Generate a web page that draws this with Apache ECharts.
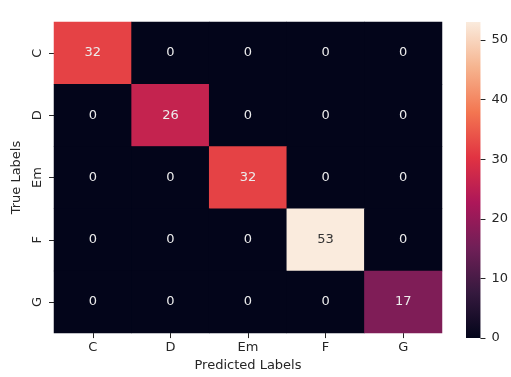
<!DOCTYPE html>
<html>
<head>
<meta charset="utf-8">
<script src="https://cdn.jsdelivr.net/npm/echarts@6/dist/echarts.min.js"></script>
<style>
  html, body { margin: 0; padding: 0; background: #ffffff; }
  #chart { width: 511px; height: 377px; }
</style>
</head>
<body>
<div id="chart"></div>
<script>
// Confusion matrix of chord predictions
const classLabels = ['C', 'D', 'Em', 'F', 'G'];
// rows = true label, columns = predicted label
const confusion = [
  [32, 0, 0, 0, 0],
  [0, 26, 0, 0, 0],
  [0, 0, 32, 0, 0],
  [0, 0, 0, 53, 0],
  [0, 0, 0, 0, 17]
];
const colorbarTicks = [0, 10, 20, 30, 40, 50];
const colorMax = 53;

// "rocket"-style sequential palette, evenly spaced stops (low -> high)
const rocket = ['#03051a', '#35193e', '#701f57', '#ad1759', '#e13342', '#f37651', '#f6b48f', '#faebdd'];

const FONT = 'DejaVu Sans';
const TEXT = '#262626';
const FS = 13;

const cells = [];
confusion.forEach((row, r) => {
  row.forEach((v, c) => {
    const light = v / colorMax > 0.75;
    cells.push({
      value: [c, r, v],
      label: { color: light ? '#333333' : '#ececec' }
    });
  });
});

// colour bar gradient: offset 0 is the top (max) end
const barGradient = new echarts.graphic.LinearGradient(0, 0, 0, 1,
  rocket.slice().reverse().map((c, i) => ({ offset: i / (rocket.length - 1), color: c }))
);

const chart = echarts.init(document.getElementById('chart'), null, { renderer: 'canvas' });
chart.setOption({
  animation: false,
  backgroundColor: '#ffffff',
  textStyle: { fontFamily: FONT },
  grid: [
    { left: 54, top: 22, width: 388, height: 316, show: true, backgroundColor: rocket[0], borderWidth: 0 },
    { left: 466, top: 22, width: 18, height: 316 }
  ],
  xAxis: [
    {
      type: 'category',
      gridIndex: 0,
      data: classLabels,
      name: 'Predicted Labels',
      nameLocation: 'middle',
      nameGap: 23,
      nameTextStyle: { color: TEXT, fontSize: FS, fontFamily: FONT },
      axisLine: { show: false },
      axisTick: { show: true, alignWithLabel: true, length: 5, lineStyle: { color: TEXT } },
      axisLabel: { color: TEXT, fontSize: FS, fontFamily: FONT, margin: 8 },
      splitLine: { show: false }
    },
    { type: 'category', gridIndex: 1, show: false, data: ['scale'] }
  ],
  yAxis: [
    {
      type: 'category',
      gridIndex: 0,
      data: classLabels,
      inverse: true,
      name: 'True Labels',
      nameLocation: 'middle',
      nameGap: 28,
      nameRotate: 90,
      nameTextStyle: { color: TEXT, fontSize: FS, fontFamily: FONT },
      axisLine: { show: false },
      axisTick: { show: true, alignWithLabel: true, length: 5, lineStyle: { color: TEXT } },
      axisLabel: { color: TEXT, fontSize: FS, fontFamily: FONT, rotate: 90, margin: 10 },
      splitLine: { show: false }
    },
    {
      type: 'value',
      gridIndex: 1,
      position: 'right',
      min: 0,
      max: colorMax,
      interval: 10,
      axisLine: { show: false },
      axisTick: { show: true, length: 5, customValues: colorbarTicks, lineStyle: { color: TEXT } },
      axisLabel: {
        color: TEXT, fontSize: FS, fontFamily: FONT, margin: 11,
        customValues: colorbarTicks,
        formatter: v => (colorbarTicks.indexOf(v) >= 0 ? String(v) : '')
      },
      splitLine: { show: false }
    }
  ],
  visualMap: {
    type: 'continuous',
    show: false,
    min: 0,
    max: colorMax,
    seriesIndex: 0,
    inRange: { color: rocket }
  },
  series: [
    {
      type: 'heatmap',
      xAxisIndex: 0,
      yAxisIndex: 0,
      data: cells,
      label: {
        show: true,
        fontFamily: FONT,
        fontSize: FS,
        formatter: p => String(p.value[2])
      },
      itemStyle: { borderWidth: 0 },
      emphasis: { disabled: true }
    },
    {
      // colour bar: one bar spanning the full colour range
      type: 'bar',
      xAxisIndex: 1,
      yAxisIndex: 1,
      data: [colorMax],
      barWidth: '100%',
      itemStyle: { color: barGradient, borderWidth: 0, borderRadius: 0 },
      emphasis: { disabled: true },
      silent: true
    }
  ]
});
</script>
</body>
</html>
